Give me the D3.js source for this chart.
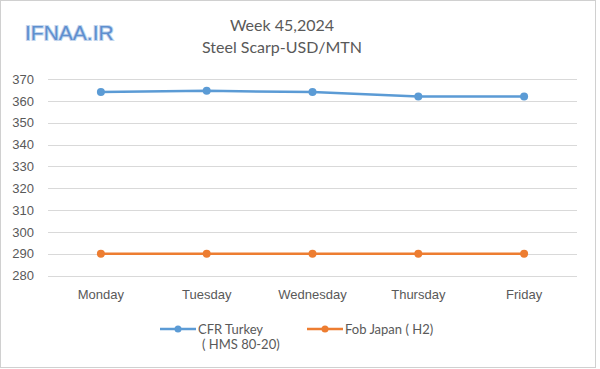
<!DOCTYPE html>
<html>
<head>
<meta charset="utf-8">
<style>
    body { margin: 0; background: #fff; }
    svg { display: block; font-family: Lato, "Open Sans", sans-serif; }
    .grid line { stroke: #d9d9d9; stroke-width: 1; }
    .y .domain, .x .domain { display: none; }
    .tick text { fill: #595959; font-size: 13px; }
    .logo { font-family: "Liberation Sans", Arial, sans-serif; }
</style>
</head>
<body>
<svg width="600" height="369"></svg>
<script src="https://d3js.org/d3.v7.min.js"></script>
<script>
    // chart values
    let days = ["Monday", "Tuesday", "Wednesday", "Thursday", "Friday"]
    let turkey = [364, 364.6, 364, 362, 362]
    let japan = [290, 290, 290, 290, 290]
    let yTicks = [280, 290, 300, 310, 320, 330, 340, 350, 360, 370]

    let width = 600
    let height = 369
    let margin = { top: 79, right: 23, bottom: 93.5, left: 48 }

    let svg = d3.select("svg")

    // outer frame
    svg.append("rect")
        .attr("x", 0.5).attr("y", 0.5)
        .attr("width", 595).attr("height", 367)
        .attr("fill", "none")
        .attr("stroke", "#d0d0d0")

    let x = d3.scaleBand()
        .domain(days)
        .range([margin.left, width - margin.right])

    let y = d3.scaleLinear()
        .domain([280, 370])
        .range([height - margin.bottom, margin.top])

    // gridlines
    svg.append("g")
        .attr("class", "grid")
        .selectAll("line")
        .data(yTicks)
        .join("line")
        .attr("x1", margin.left)
        .attr("x2", width - margin.right)
        .attr("y1", d => Math.round(y(d)) + 0.5)
        .attr("y2", d => Math.round(y(d)) + 0.5)

    // y axis
    svg.append("g")
        .attr("class", "y axis")
        .attr("transform", `translate(${margin.left - 14},0)`)
        .call(d3.axisLeft(y).tickValues(yTicks).tickSize(0).tickPadding(0))

    // x axis
    svg.append("g")
        .attr("class", "x axis")
        .attr("transform", `translate(0,${height - margin.bottom})`)
        .call(d3.axisBottom(x).tickSize(0).tickPadding(14))

    let series = [
        { name: "CFR Turkey", values: turkey, color: "#5b9bd5" },
        { name: "Fob Japan ( H2)", values: japan, color: "#ed7d31" }
    ]

    let line = d3.line()
        .x((d, i) => x(days[i]) + x.bandwidth() / 2)
        .y(d => y(d))

    series.forEach(s => {
        svg.append("path")
            .datum(s.values)
            .attr("fill", "none")
            .attr("stroke", s.color)
            .attr("stroke-width", 2.5)
            .attr("stroke-linecap", "round")
            .attr("d", line)

        svg.append("g")
            .selectAll("circle")
            .data(s.values)
            .join("circle")
            .attr("cx", (d, i) => x(days[i]) + x.bandwidth() / 2)
            .attr("cy", d => y(d))
            .attr("r", 4)
            .attr("fill", s.color)
    })

    // legend
    let legend = svg.append("g").attr("font-size", "13px").attr("fill", "#595959")
    let legendX = [160, 307]
    series.forEach((s, i) => {
        let g = legend.append("g").attr("transform", `translate(${legendX[i]},329)`)
        g.append("line")
            .attr("x1", 0).attr("x2", 36)
            .attr("stroke", s.color).attr("stroke-width", 2.5)
        g.append("circle").attr("cx", 18).attr("r", 3.5).attr("fill", s.color)
        g.append("text").attr("x", 38).attr("y", 4.5).text(s.name)
    })
    legend.append("text").attr("x", 202).attr("y", 349).text("( HMS 80-20)")

    // titles
    svg.append("text")
        .attr("x", 282).attr("y", 31)
        .attr("text-anchor", "middle")
        .attr("font-size", "16px")
        .attr("fill", "#595959")
        .text("Week 45,2024")
    svg.append("text")
        .attr("x", 282).attr("y", 53)
        .attr("text-anchor", "middle")
        .attr("font-size", "16px")
        .attr("fill", "#595959")
        .text("Steel Scarp-USD/MTN")

    // logo: thin blue letters with a pale halo
    svg.append("text")
        .attr("class", "logo")
        .attr("x", 25).attr("y", 40)
        .attr("font-size", "21px")
        .attr("fill", "#5f8fcf")
        .attr("stroke", "#c3d6ee")
        .attr("stroke-width", 2)
        .attr("paint-order", "stroke")
        .text("IFNAA.IR")
</script>
</body>
</html>
